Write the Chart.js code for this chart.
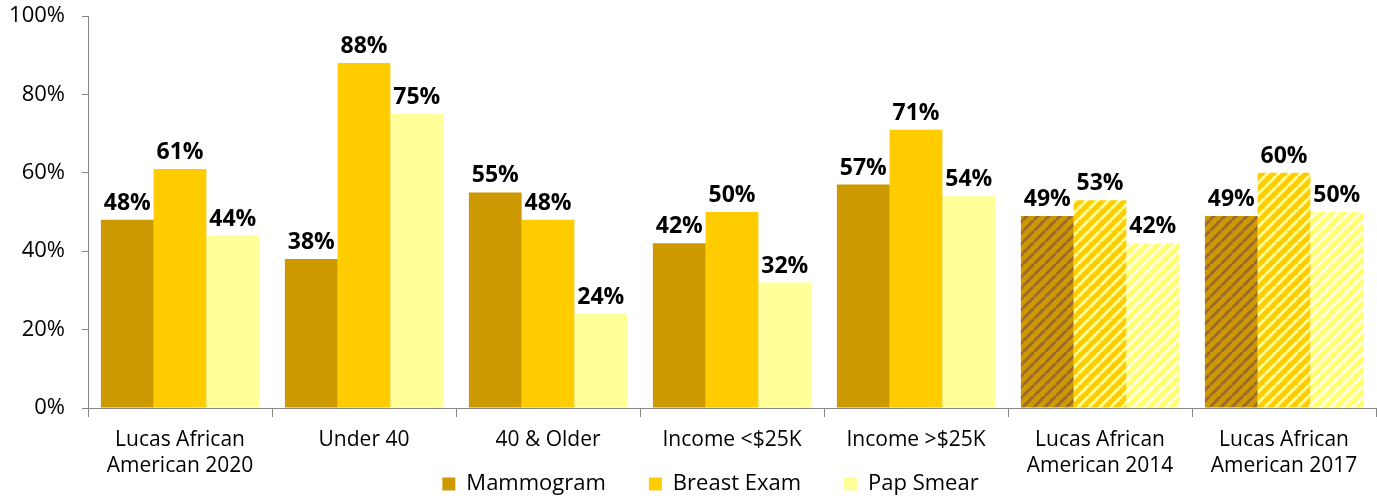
<!DOCTYPE html>
<html>
<head>
<meta charset="utf-8">
<script src="https://cdn.jsdelivr.net/npm/chart.js@4"></script>
<style>
  html, body { margin: 0; padding: 0; background: #fff; }
  #wrap { width: 1377px; height: 499px; }
</style>
</head>
<body>
<div id="wrap"><canvas id="grafico" width="1377" height="499"></canvas></div>
<script>
// categorias (cada uma em duas linhas)
var categorias = [
    ["Lucas African", "American 2020"],
    "Under 40",
    "40 & Older",
    "Income <$25K",
    "Income >$25K",
    ["Lucas African", "American 2014"],
    ["Lucas African", "American 2017"]
];

var mamografia = [48, 38, 55, 42, 57, 49, 49];
var exameMama = [61, 88, 48, 50, 71, 53, 60];
var papanicolau = [44, 75, 24, 32, 54, 42, 50];

var yTicks = [0, 20, 40, 60, 80, 100];

// os dois últimos grupos são hachurados
var hachurados = [5, 6];

var fonte = "'Open Sans', 'Noto Sans', sans-serif";

function hachura(base, listra) {
    var s = 11;
    var c = document.createElement("canvas");
    c.width = s; c.height = s;
    var g = c.getContext("2d");
    g.fillStyle = base;
    g.fillRect(0, 0, s, s);
    g.strokeStyle = listra;
    g.lineWidth = 3;
    [-s, 0, s].forEach(function (o) {
        g.beginPath();
        g.moveTo(o, s);
        g.lineTo(o + s, 0);
        g.stroke();
    });
    return g.createPattern(c, "repeat");
}

function cores(base, listra, baseHachura) {
    var p = hachura(baseHachura || base, listra);
    return categorias.map(function (_, i) {
        return hachurados.indexOf(i) >= 0 ? p : base;
    });
}

// rótulos de dados desenhados sobre as barras
var rotulos = {
    id: "rotulos",
    afterDatasetsDraw: function (chart) {
        var ctx = chart.ctx;
        ctx.save();
        ctx.font = "bold 23px " + fonte;
        ctx.fillStyle = "#000";
        ctx.textAlign = "center";
        ctx.textBaseline = "alphabetic";
        chart.data.datasets.forEach(function (ds, i) {
            chart.getDatasetMeta(i).data.forEach(function (bar, j) {
                ctx.fillText(ds.data[j] + "%", bar.x, bar.y - 10);
            });
        });
        ctx.restore();
    }
};

// legenda com altura pequena, desenhada mais acima (sobre a área do eixo x)
var posLegenda = {
    id: "posLegenda",
    beforeUpdate: function (chart) {
        var lg = chart.legend;
        if (lg && !lg._fixo) {
            var fit = lg.fit;
            lg.fit = function () { fit.call(this); this.height = 20; };
            lg._fixo = true;
        }
    },
    beforeDraw: function (chart) {
        var lg = chart.legend;
        lg.top = 430;
        lg.bottom = 499;
        lg.left = 22;
        lg.right = 1399;
    }
};

new Chart(document.getElementById("grafico").getContext("2d"), {
    type: "bar",
    data: {
        labels: categorias,
        datasets: [
            { label: "Mammogram", data: mamografia, backgroundColor: cores("#CC9900", "#9C6A30") },
            { label: "Breast Exam", data: exameMama, backgroundColor: cores("#FFCC00", "#FFFF99") },
            { label: "Pap Smear", data: papanicolau, backgroundColor: cores("#FFFF99", "#FFFFE8", "#FFFF70") }
        ]
    },
    options: {
        responsive: false,
        animation: false,
        layout: { padding: { top: 16, right: 1, left: 0, bottom: 0 } },
        datasets: { bar: { categoryPercentage: 0.86, barPercentage: 1.0 } },
        plugins: {
            legend: {
                position: "bottom",
                labels: {
                    boxWidth: 13,
                    boxHeight: 13,
                    padding: 43,
                    color: "#000",
                    font: { family: fonte, size: 22 }
                }
            },
            tooltip: { enabled: false }
        },
        scales: {
            x: {
                grid: { offset: true, drawOnChartArea: false, tickLength: 9, color: "#868686" },
                border: { color: "#868686" },
                ticks: { color: "#000", padding: 10, maxRotation: 0, font: { family: fonte, size: 21, lineHeight: 1.25 } },
                afterFit: function (s) { s.height = 71; }
            },
            y: {
                min: 0,
                max: 100,
                afterBuildTicks: function (s) { s.ticks = yTicks.map(function (v) { return { value: v }; }); },
                grid: { drawOnChartArea: false, tickLength: 6, color: "#868686" },
                border: { color: "#868686" },
                ticks: {
                    color: "#000",
                    padding: 17,
                    font: { family: fonte, size: 22 },
                    callback: function (v) { return v + "%"; }
                },
                afterFit: function (s) { s.width = 88; s.paddingTop = 0; s.paddingBottom = 0; }
            }
        }
    },
    plugins: [rotulos, posLegenda]
});
</script>
</body>
</html>
